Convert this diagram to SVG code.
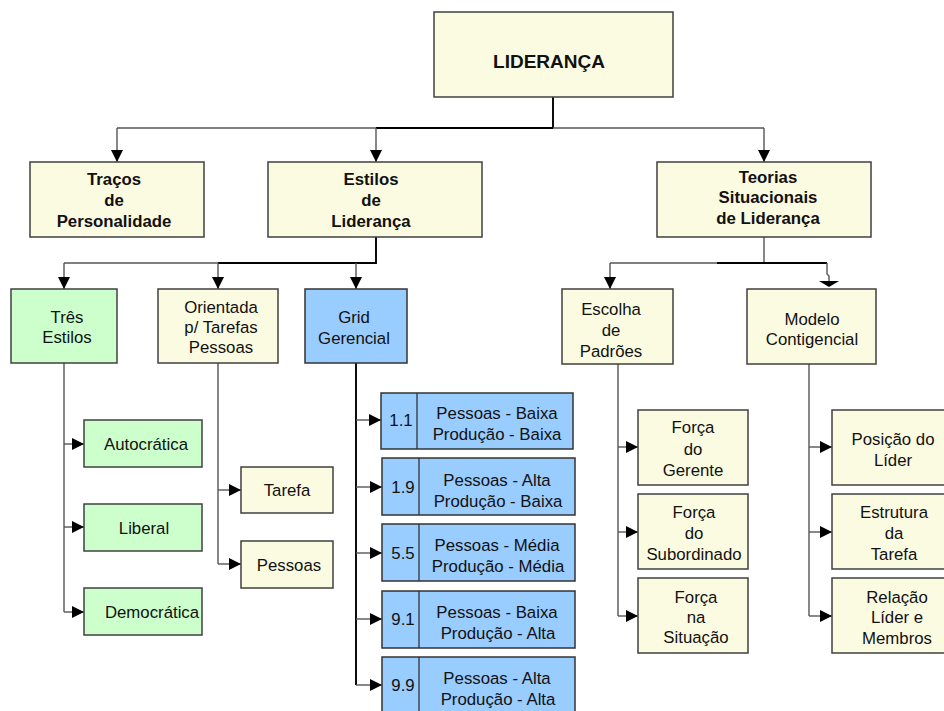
<svg xmlns="http://www.w3.org/2000/svg" width="944" height="711" viewBox="0 0 944 711">
<defs>
<style>
.y{fill:#FBFBE1;stroke:#404040;stroke-width:1.5}
.g{fill:#CCFFCC;stroke:#404040;stroke-width:1.5}
.b{fill:#99CCFF;stroke:#333;stroke-width:1.5}
.dv{stroke:#333;stroke-width:1.3}
text{font-family:"Liberation Sans",Arial,sans-serif;font-size:16.8px;fill:#111;text-anchor:middle}
.bd{font-weight:bold}
.c{fill:none;stroke:#555;stroke-width:1.4}
.t{fill:none;stroke:#000;stroke-width:1.9}
</style>
<marker id="a" markerUnits="userSpaceOnUse" markerWidth="13" markerHeight="13" refX="12" refY="6" orient="auto">
<path d="M0,0 L12,6 L0,12 z" fill="#000"/>
</marker>
</defs>

<g id="connectors">
<path class="t" d="M553,97 V128"/>
<path class="c" d="M117,128 H764"/>
<path class="t" d="M376,128 H553"/>
<path class="c" d="M117,128 V162" marker-end="url(#a)"/>
<path class="c" d="M376,128 V162" marker-end="url(#a)"/>
<path class="c" d="M764,128 V162" marker-end="url(#a)"/>
<path class="t" d="M376,237 V263 H218"/>
<path class="c" d="M218,263 H64"/>
<path class="c" d="M64,263 V289" marker-end="url(#a)"/>
<path class="c" d="M218,263 V289" marker-end="url(#a)"/>
<path class="c" d="M356,263 V289" marker-end="url(#a)"/>
<path class="c" d="M64,363 V612"/>
<path class="c" d="M64,444 H84" marker-end="url(#a)"/>
<path class="c" d="M64,527 H84" marker-end="url(#a)"/>
<path class="c" d="M64,612 H84" marker-end="url(#a)"/>
<path class="c" d="M218,363 V564"/>
<path class="c" d="M218,490 H241" marker-end="url(#a)"/>
<path class="c" d="M218,564 H241" marker-end="url(#a)"/>
<path class="t" d="M356,363 V685"/>
<path class="c" d="M356,420 H381" marker-end="url(#a)"/>
<path class="c" d="M356,487 H382" marker-end="url(#a)"/>
<path class="c" d="M356,553 H382" marker-end="url(#a)"/>
<path class="c" d="M356,619 H382" marker-end="url(#a)"/>
<path class="c" d="M356,685 H382" marker-end="url(#a)"/>
<path class="c" d="M764,237 V263"/>
<path class="c" d="M610,263 H717"/>
<path class="t" d="M717,263 H827"/>
<path class="c" d="M610,263 V289" marker-end="url(#a)"/>
<path class="c" d="M827,263 V274 L829,276 V282"/>
<polygon points="819,281 839,281 829,287" fill="#000"/>
<path class="c" d="M618,364 V616"/>
<path class="c" d="M618,447 H638" marker-end="url(#a)"/>
<path class="c" d="M618,532 H638" marker-end="url(#a)"/>
<path class="c" d="M618,616 H638" marker-end="url(#a)"/>
<path class="c" d="M809,364 V616"/>
<path class="c" d="M809,447 H832" marker-end="url(#a)"/>
<path class="c" d="M809,532 H832" marker-end="url(#a)"/>
<path class="c" d="M809,616 H832" marker-end="url(#a)"/>
</g>

<g id="lideranca">
<rect class="y" x="434" y="12" width="239" height="85"/>
<text class="bd" x="549" y="68" style="font-size:19px">LIDERANÇA</text>
</g>

<g id="tracos">
<rect class="y" x="30" y="162" width="174" height="75"/>
<text class="bd" x="114" y="185">Traços</text>
<text class="bd" x="114" y="206">de</text>
<text class="bd" x="114" y="227">Personalidade</text>
</g>

<g id="estilos">
<rect class="y" x="268" y="162" width="214" height="75"/>
<text class="bd" x="371" y="185">Estilos</text>
<text class="bd" x="371" y="206">de</text>
<text class="bd" x="371" y="227">Liderança</text>
</g>

<g id="teorias">
<rect class="y" x="657" y="162" width="214" height="75"/>
<text class="bd" x="768" y="183">Teorias</text>
<text class="bd" x="768" y="203">Situacionais</text>
<text class="bd" x="768" y="224">de Liderança</text>
</g>

<g id="tres-estilos">
<rect class="g" x="11" y="289" width="106" height="74"/>
<text x="67" y="323">Três</text>
<text x="67" y="343">Estilos</text>
</g>

<g id="autocratica">
<rect class="g" x="84" y="420" width="118" height="47"/>
<text x="146" y="450">Autocrática</text>
</g>

<g id="liberal">
<rect class="g" x="84" y="504" width="118" height="47"/>
<text x="144" y="534">Liberal</text>
</g>

<g id="democratica">
<rect class="g" x="84" y="588" width="118" height="47"/>
<text x="152" y="618">Democrática</text>
</g>

<g id="orientada">
<rect class="y" x="158" y="289" width="120" height="74"/>
<text x="221" y="313">Orientada</text>
<text x="221" y="333">p/ Tarefas</text>
<text x="221" y="353">Pessoas</text>
</g>

<g id="tarefa">
<rect class="y" x="241" y="467" width="92" height="46"/>
<text x="287" y="496">Tarefa</text>
</g>

<g id="pessoas">
<rect class="y" x="241" y="541" width="92" height="47"/>
<text x="289" y="571">Pessoas</text>
</g>

<g id="grid">
<rect class="b" x="305" y="289" width="102" height="74"/>
<text x="354" y="323">Grid</text>
<text x="354" y="344">Gerencial</text>
</g>

<g id="grid-11">
<rect class="b" x="381" y="393" width="192" height="56"/>
<line class="dv" x1="417" y1="393" x2="417" y2="449"/>
<text x="401" y="426">1.1</text>
<text x="497" y="419">Pessoas - Baixa</text>
<text x="497" y="440">Produção - Baixa</text>
</g>

<g id="grid-19">
<rect class="b" x="382" y="458" width="193" height="57"/>
<line class="dv" x1="419" y1="458" x2="419" y2="515"/>
<text x="403" y="493">1.9</text>
<text x="497" y="486">Pessoas - Alta</text>
<text x="498" y="507">Produção - Baixa</text>
</g>

<g id="grid-55">
<rect class="b" x="382" y="524" width="193" height="57"/>
<line class="dv" x1="419" y1="524" x2="419" y2="581"/>
<text x="403" y="559">5.5</text>
<text x="497" y="551">Pessoas - Média</text>
<text x="498" y="572">Produção - Média</text>
</g>

<g id="grid-91">
<rect class="b" x="382" y="591" width="193" height="57"/>
<line class="dv" x1="419" y1="591" x2="419" y2="648"/>
<text x="403" y="625">9.1</text>
<text x="497" y="618">Pessoas - Baixa</text>
<text x="498" y="639">Produção - Alta</text>
</g>

<g id="grid-99">
<rect class="b" x="382" y="657" width="193" height="57"/>
<line class="dv" x1="419" y1="657" x2="419" y2="714"/>
<text x="403" y="691">9.9</text>
<text x="497" y="684">Pessoas - Alta</text>
<text x="498" y="705">Produção - Alta</text>
</g>

<g id="escolha">
<rect class="y" x="562" y="289" width="111" height="75"/>
<text x="611" y="315">Escolha</text>
<text x="611" y="336">de</text>
<text x="611" y="357">Padrões</text>
</g>

<g id="forca-gerente">
<rect class="y" x="638" y="410" width="110" height="75"/>
<text x="693" y="433">Força</text>
<text x="693" y="455">do</text>
<text x="693" y="476">Gerente</text>
</g>

<g id="forca-subordinado">
<rect class="y" x="638" y="494" width="110" height="75"/>
<text x="694" y="518">Força</text>
<text x="694" y="539">do</text>
<text x="694" y="560">Subordinado</text>
</g>

<g id="forca-situacao">
<rect class="y" x="638" y="578" width="110" height="75"/>
<text x="696" y="603">Força</text>
<text x="696" y="623">na</text>
<text x="696" y="643">Situação</text>
</g>

<g id="modelo">
<rect class="y" x="747" y="289" width="129" height="75"/>
<text x="812" y="325">Modelo</text>
<text x="812" y="345">Contigencial</text>
</g>

<g id="posicao-lider">
<rect class="y" x="832" y="410" width="120" height="75"/>
<text x="893" y="445">Posição do</text>
<text x="893" y="466">Líder</text>
</g>

<g id="estrutura-tarefa">
<rect class="y" x="832" y="494" width="120" height="75"/>
<text x="894" y="518">Estrutura</text>
<text x="894" y="539">da</text>
<text x="894" y="560">Tarefa</text>
</g>

<g id="relacao-lider">
<rect class="y" x="832" y="578" width="120" height="75"/>
<text x="897" y="603">Relação</text>
<text x="897" y="623">Líder e</text>
<text x="897" y="644">Membros</text>
</g>
</svg>
